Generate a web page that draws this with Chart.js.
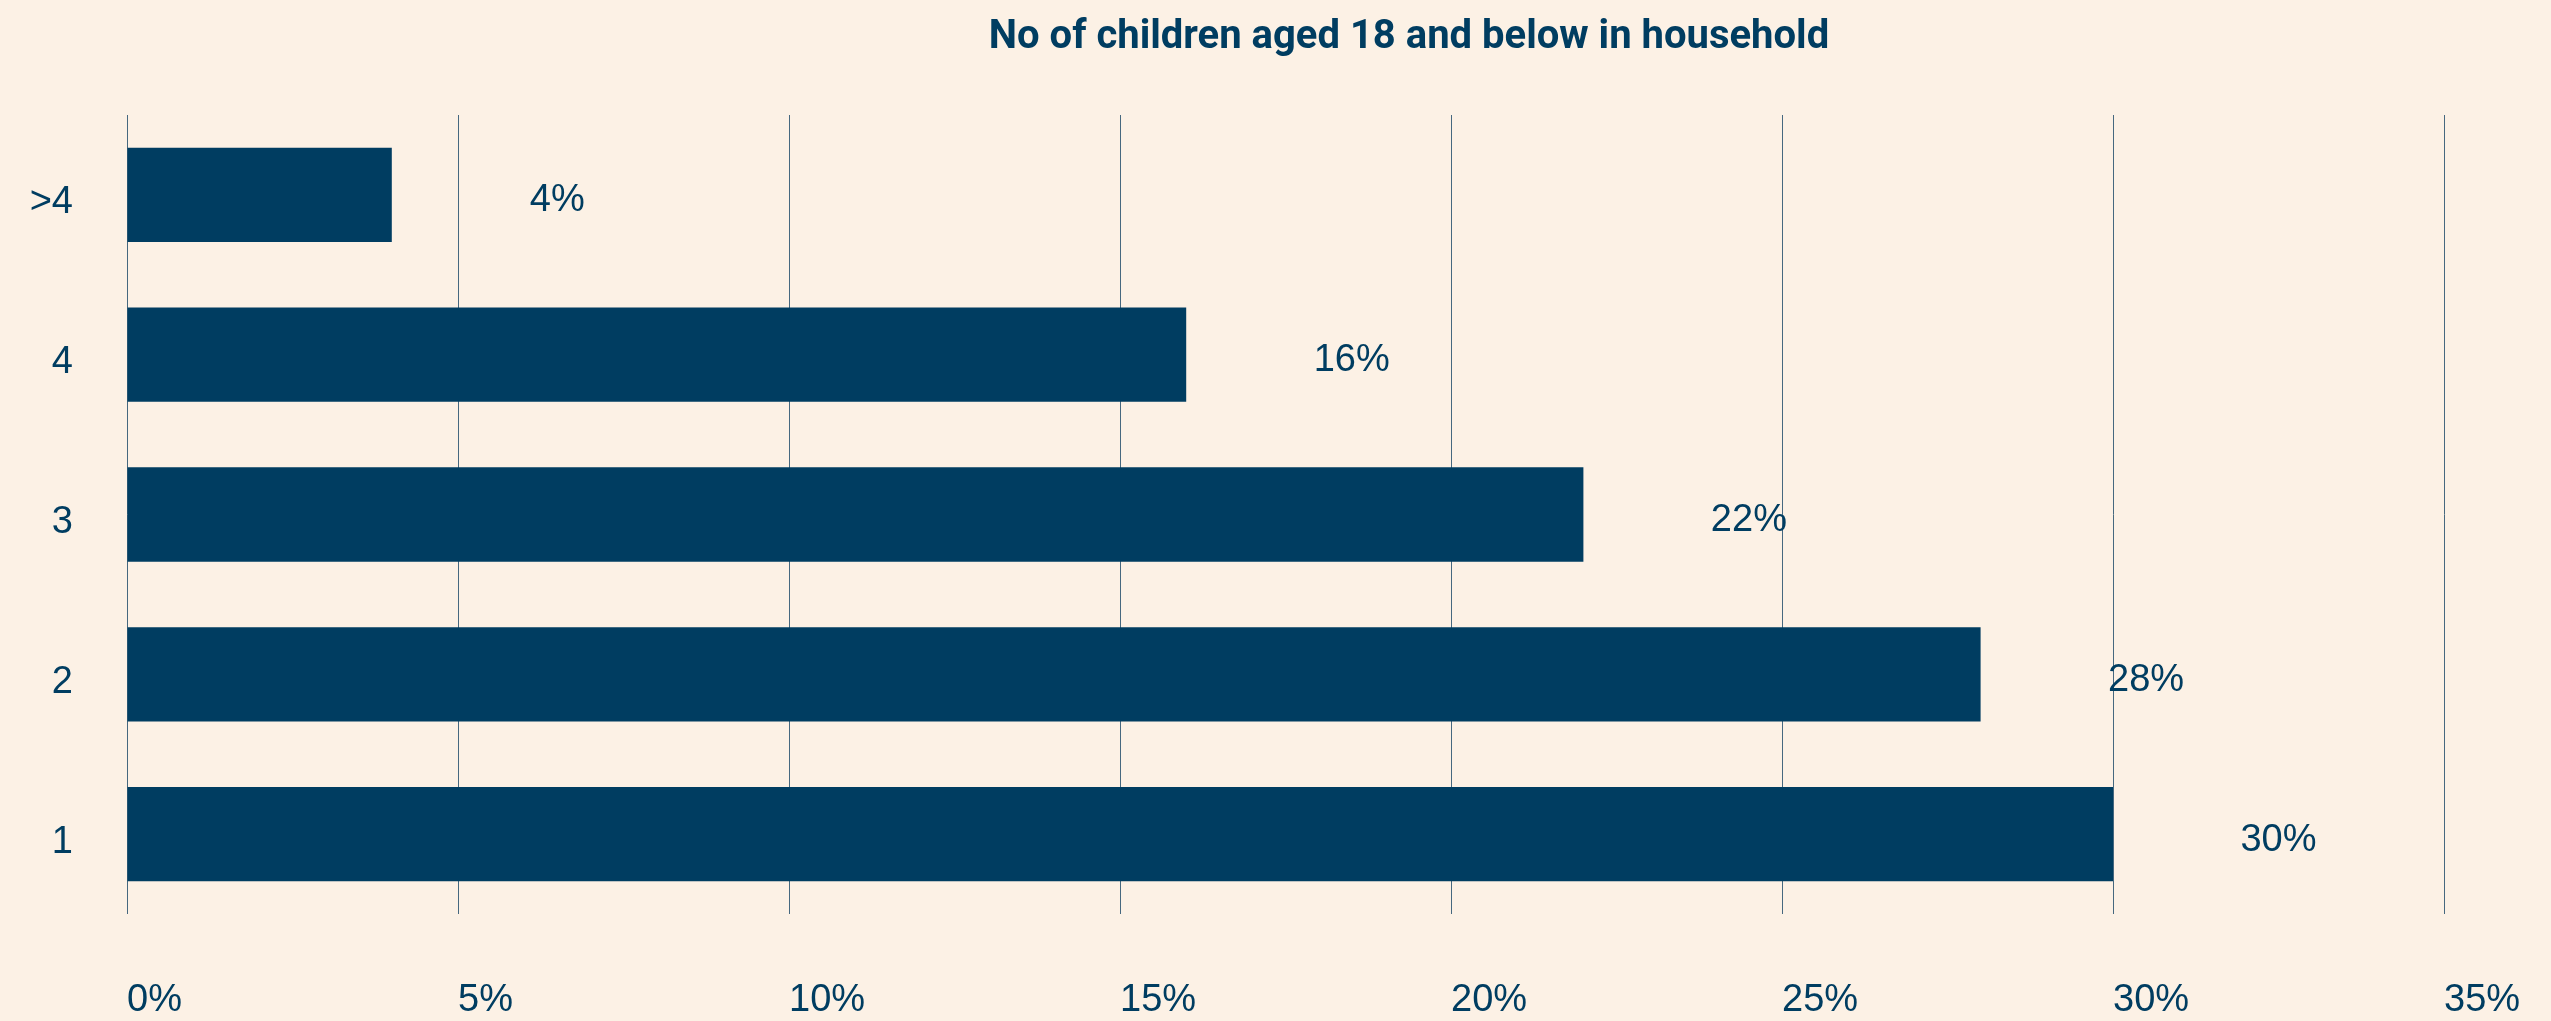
<!DOCTYPE html>
<html>
<head>
<meta charset="utf-8">
<script src="https://cdn.jsdelivr.net/npm/chart.js@4.4.0/dist/chart.umd.min.js"></script>
<style>
  html, body { margin: 0; padding: 0; background: #fcf1e5; }
  #wrap { width: 2551px; height: 1021px; }
</style>
</head>
<body>
<div id="wrap"><canvas id="childrenChart" width="2551" height="1021"></canvas></div>
<script>
// chart data
const categories = ['>4', '4', '3', '2', '1'];
const shares = [4, 16, 22, 28, 30];
const xTicks = [0, 5, 10, 15, 20, 25, 30, 35];
const chartTitle = 'No of children aged 18 and below in household';

const navy = '#003d61';
const gridColor = '#46687f';
const tickFont = { family: '"Liberation Sans", Arial, sans-serif', size: 38 };

// value labels sit a bit to the right of each bar end
const valueLabels = {
    id: 'valueLabels',
    afterDatasetsDraw(chart) {
        const ctx = chart.ctx;
        const xScale = chart.scales.x;
        const meta = chart.getDatasetMeta(0);
        ctx.save();
        ctx.fillStyle = navy;
        ctx.font = '38px "Liberation Sans", Arial, sans-serif';
        ctx.textAlign = 'center';
        ctx.textBaseline = 'middle';
        meta.data.forEach((bar, i) => {
            const x = xScale.getPixelForValue(shares[i] + 2.5);
            ctx.fillText(shares[i] + '%', x, bar.y + 6);
        });
        ctx.restore();
    }
};

// title is offset right of centre in the original, so draw it by hand
const titlePlugin = {
    id: 'titlePlugin',
    afterDraw(chart) {
        const ctx = chart.ctx;
        ctx.save();
        ctx.fillStyle = navy;
        ctx.font = 'bold 40px Roboto, "Liberation Sans", sans-serif';
        ctx.textAlign = 'center';
        ctx.textBaseline = 'middle';
        ctx.fillText(chartTitle, 1409, 38);
        ctx.restore();
    }
};

new Chart(document.getElementById('childrenChart'), {
    type: 'bar',
    data: {
        labels: categories,
        datasets: [{
            data: shares,
            backgroundColor: navy,
            borderWidth: 0,
            barPercentage: 0.59,
            categoryPercentage: 1
        }]
    },
    options: {
        indexAxis: 'y',
        responsive: false,
        animation: false,
        devicePixelRatio: 1,
        layout: { padding: { left: 0, right: 107, top: 115, bottom: 0 } },
        plugins: {
            legend: { display: false },
            title: { display: false },
            tooltip: { enabled: false }
        },
        scales: {
            x: {
                min: 0,
                max: 35,
                afterBuildTicks(scale) {
                    scale.ticks = xTicks.map(v => ({ value: v }));
                },
                afterFit(scale) {
                    scale.height = 107;
                    // let the layout padding decide the right edge, not the last label
                    scale.paddingRight = 0;
                    scale.paddingLeft = 0;
                },
                grid: { color: gridColor, lineWidth: 1, drawTicks: false },
                border: { display: false },
                ticks: {
                    color: navy,
                    font: tickFont,
                    align: 'start',
                    padding: 64,
                    callback: v => v + '%'
                }
            },
            y: {
                afterFit(scale) { scale.width = 127; },
                grid: { display: false, drawTicks: false },
                border: { display: false },
                ticks: {
                    color: navy,
                    font: tickFont,
                    padding: 54,
                    labelOffset: 8
                }
            }
        }
    },
    plugins: [valueLabels, titlePlugin]
});
</script>
</body>
</html>
